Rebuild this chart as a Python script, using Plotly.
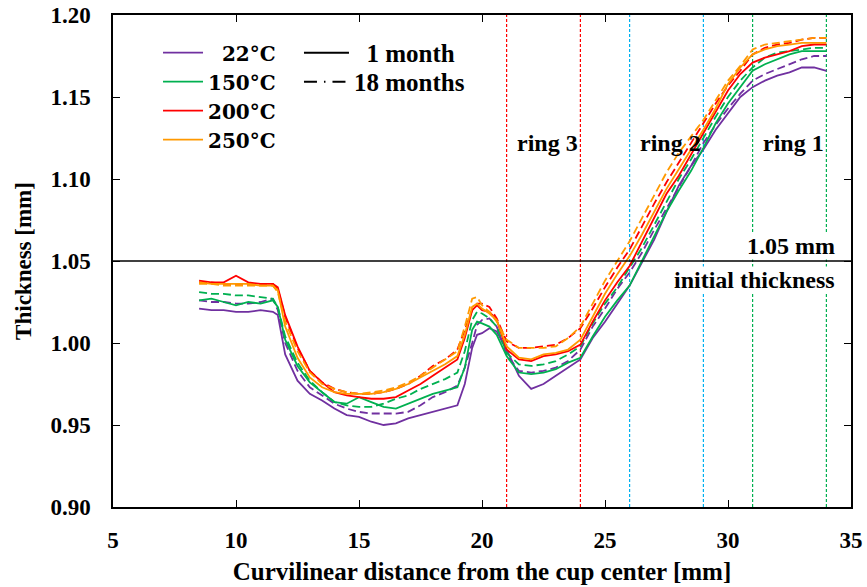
import plotly.graph_objects as go

# ---------------- data ----------------
x_mm = [8.5, 9, 9.5, 10, 10.5, 11, 11.5, 11.7, 12, 12.5, 13, 13.5, 14, 14.5, 15, 15.5,
        16, 16.5, 17, 17.5, 18, 18.5, 19, 19.3, 19.6, 19.8, 20, 20.3, 20.6, 21, 21.5,
        22, 22.5, 23, 23.5, 24, 24.5, 25, 25.5, 26, 26.5, 27, 27.5, 28, 28.5, 29,
        29.5, 30, 30.5, 31, 31.5, 32, 32.5, 33, 33.5, 34]

t22_1m = [1.021, 1.020, 1.020, 1.019, 1.019, 1.020, 1.019, 1.017, 0.993, 0.977, 0.969, 0.965,
          0.960, 0.956, 0.955, 0.952, 0.950, 0.951, 0.954, 0.956, 0.958, 0.960, 0.962, 0.975,
          0.997, 1.005, 1.006, 1.009, 1.007, 0.996, 0.980, 0.972, 0.975, 0.980, 0.985, 0.990,
          1.003, 1.013, 1.024, 1.035, 1.049, 1.063, 1.080, 1.096, 1.108, 1.118, 1.130, 1.140,
          1.150, 1.156, 1.160, 1.163, 1.165, 1.168, 1.168, 1.166]
t22_18m = [1.026, 1.025, 1.025, 1.024, 1.024, 1.025, 1.027, 1.020, 1.000, 0.983, 0.973, 0.968,
           0.963, 0.960, 0.958, 0.957, 0.957, 0.957, 0.958, 0.962, 0.967, 0.970, 0.974, 0.985,
           1.000, 1.011, 1.014, 1.015, 1.010, 0.993, 0.983, 0.982, 0.983, 0.985, 0.989, 0.996,
           1.010, 1.021, 1.033, 1.043, 1.055, 1.069, 1.082, 1.095, 1.108, 1.122, 1.133, 1.143,
           1.152, 1.160, 1.164, 1.167, 1.170, 1.173, 1.175, 1.175]
t150_1m = [1.026, 1.027, 1.025, 1.023, 1.025, 1.024, 1.026, 1.022, 1.002, 0.986, 0.976, 0.970,
           0.964, 0.963, 0.967, 0.964, 0.961, 0.960, 0.963, 0.966, 0.969, 0.971, 0.973, 0.985,
           1.008, 1.013, 1.012, 1.010, 1.005, 0.992, 0.982, 0.981, 0.982, 0.984, 0.988, 0.991,
           1.004, 1.016, 1.026, 1.035, 1.050, 1.066, 1.080, 1.093, 1.105, 1.119, 1.134, 1.146,
           1.156, 1.166, 1.170, 1.173, 1.176, 1.178, 1.178, 1.178]
t150_18m = [1.031, 1.030, 1.030, 1.029, 1.029, 1.028, 1.027, 1.022, 1.004, 0.988, 0.977, 0.970,
            0.964, 0.962, 0.961, 0.961, 0.963, 0.966, 0.968, 0.972, 0.975, 0.978, 0.982, 0.995,
            1.014, 1.019, 1.018, 1.015, 1.010, 0.994, 0.987, 0.986, 0.987, 0.989, 0.993, 0.998,
            1.012, 1.024, 1.034, 1.046, 1.058, 1.072, 1.086, 1.100, 1.112, 1.125, 1.138, 1.150,
            1.160, 1.168, 1.174, 1.177, 1.178, 1.179, 1.180, 1.180]
t200_1m = [1.038, 1.037, 1.037, 1.041, 1.037, 1.036, 1.036, 1.034, 1.017, 0.998, 0.983, 0.976,
           0.970, 0.968, 0.967, 0.966, 0.966, 0.967, 0.971, 0.975, 0.980, 0.985, 0.990, 1.003,
           1.020, 1.023, 1.020, 1.019, 1.014, 0.996, 0.990, 0.989, 0.992, 0.993, 0.995, 0.999,
           1.013, 1.026, 1.037, 1.047, 1.062, 1.077, 1.091, 1.102, 1.115, 1.128, 1.141, 1.154,
           1.164, 1.171, 1.174, 1.176, 1.178, 1.181, 1.182, 1.182]
t200_18m = [1.037, 1.037, 1.036, 1.036, 1.036, 1.036, 1.036, 1.033, 1.016, 0.997, 0.983, 0.976,
            0.972, 0.970, 0.969, 0.969, 0.970, 0.972, 0.975, 0.980, 0.986, 0.990, 0.996, 1.008,
            1.020, 1.024, 1.024, 1.022, 1.015, 1.001, 0.997, 0.997, 0.998, 0.999, 1.003, 1.009,
            1.021, 1.034, 1.046, 1.057, 1.071, 1.085, 1.098, 1.110, 1.122, 1.134, 1.146, 1.157,
            1.166, 1.176, 1.180, 1.182, 1.183, 1.185, 1.186, 1.186]
t250_1m = [1.037, 1.036, 1.036, 1.036, 1.036, 1.035, 1.035, 1.032, 1.010, 0.991, 0.979, 0.973,
           0.970, 0.969, 0.969, 0.969, 0.970, 0.972, 0.975, 0.979, 0.983, 0.987, 0.992, 1.005,
           1.022, 1.024, 1.021, 1.018, 1.014, 0.998, 0.991, 0.990, 0.993, 0.994, 0.996, 1.002,
           1.016, 1.030, 1.042, 1.053, 1.066, 1.080, 1.094, 1.106, 1.118, 1.130, 1.143, 1.158,
           1.168, 1.176, 1.179, 1.181, 1.182, 1.183, 1.183, 1.183]
t250_18m = [1.036, 1.036, 1.035, 1.035, 1.035, 1.035, 1.035, 1.031, 1.013, 0.995, 0.982, 0.975,
            0.972, 0.970, 0.969, 0.970, 0.971, 0.973, 0.976, 0.980, 0.985, 0.990, 0.995, 1.010,
            1.027, 1.028, 1.023, 1.019, 1.013, 1.002, 0.997, 0.997, 0.997, 0.998, 1.003, 1.010,
            1.024, 1.038, 1.050, 1.062, 1.076, 1.090, 1.104, 1.116, 1.126, 1.136, 1.148, 1.160,
            1.169, 1.179, 1.182, 1.183, 1.184, 1.185, 1.186, 1.186]

temp_labels = ["22°C", "150°C", "200°C", "250°C"]
age_labels = ["1 month", "18 months"]
ring_bounds = [(21, 24, "ring 3"), (26, 29, "ring 2"), (31, 34, "ring 1")]
initial_thickness = 1.05
x_ticks = [5, 10, 15, 20, 25, 30, 35]
y_ticks = [0.90, 0.95, 1.00, 1.05, 1.10, 1.15, 1.20]

# ---------------- style ----------------
colors = ["#7030A0", "#00B050", "#FF0000", "#FF9900"]
ring_colors = ["#FF0000", "#00B0F0", "#00B050"]
FONT = "Liberation Serif"
BOLD = dict(family=FONT, color="black", weight="bold")
series = [(t22_1m, t22_18m), (t150_1m, t150_18m), (t200_1m, t200_18m), (t250_1m, t250_18m)]

fig = go.Figure()
for i, ((s1, s18), col, lab) in enumerate(zip(series, colors, temp_labels)):
    fig.add_trace(go.Scatter(x=x_mm, y=s18, mode="lines", showlegend=False, legendgroup=f"t{i}",
                             line=dict(color=col, width=1.8, dash="8px,4px")))
    name = ("\u00a0\u00a0" + lab) if lab == "22°C" else lab
    fig.add_trace(go.Scatter(x=x_mm, y=s1, mode="lines", name=f"<b>{name}</b>", legend="legend",
                             legendgroup=f"t{i}", line=dict(color=col, width=1.8)))

# legend-only entries for line style (one legend box each, so the rows can be placed)
fig.add_trace(go.Scatter(x=[None], y=[None], mode="lines",
                         name="<b>\u00a0\u00a0" + age_labels[0] + "</b>",
                         legend="legend2", line=dict(color="black", width=2)))
fig.add_trace(go.Scatter(x=[None], y=[None], mode="lines", name="<b>" + age_labels[1] + "</b>",
                         legend="legend3",
                         line=dict(color="black", width=2, dash="13px,7px,1.5px,7px")))

shapes = []
for (a, b, _), c in zip(ring_bounds, ring_colors):
    for xv in (a, b):
        shapes.append(dict(type="line", xref="x", yref="y", x0=xv, x1=xv, y0=0.9, y1=1.2,
                           line=dict(color=c, width=1.2, dash="3px,2px"), layer="below"))
shapes.append(dict(type="line", xref="x", yref="y", x0=5, x1=35, y0=initial_thickness,
                   y1=initial_thickness, line=dict(color="black", width=1.5), layer="above"))

annotations = []
for a, b, txt in ring_bounds:
    annotations.append(dict(x=(a + b) / 2 + 0.15, y=1.122, xref="x", yref="y", text=f"<b>{txt}</b>",
                            showarrow=False, font=dict(size=24, **BOLD)))
annotations.append(dict(x=34.4, y=1.059, xref="x", yref="y", text="<b>1.05 mm</b>", xanchor="right",
                        showarrow=False, bgcolor="white", borderpad=0,
                        font=dict(size=24, **BOLD)))
annotations.append(dict(x=34.4, y=1.0385, xref="x", yref="y", text="<b>initial thickness</b>",
                        xanchor="right", showarrow=False, bgcolor="white", borderpad=0,
                        font=dict(size=24, **BOLD)))

axis_common = dict(showline=True, linecolor="black", linewidth=1.5, mirror="ticks",
                   ticks="inside", ticklen=7, tickcolor="black", showgrid=False, zeroline=False,
                   automargin=False, ticklabeloverflow="allow", tickfont=dict(size=23, **BOLD))

legend_box = dict(xanchor="left", bgcolor="rgba(0,0,0,0)", tracegroupgap=0)

fig.update_layout(
    width=867, height=587,
    margin=dict(l=113, r=16, t=15, b=80),
    paper_bgcolor="white", plot_bgcolor="white",
    font=dict(family=FONT, color="black"),
    shapes=shapes, annotations=annotations,
    xaxis=dict(range=[5, 35], tickvals=x_ticks, ticktext=[f"<b>{v}</b>" for v in x_ticks],
               ticklabelstandoff=12,
               title=dict(text="<b>Curvilinear distance from the cup center [mm]</b>", standoff=10,
                          font=dict(size=25, **BOLD)),
               **axis_common),
    yaxis=dict(range=[0.9, 1.2], tickvals=y_ticks, ticktext=[f"<b>{v:.2f}</b>" for v in y_ticks],
               ticklabelstandoff=16,
               title=dict(text="<b>Thickness [mm]</b>", standoff=12,
                          font=dict(size=23, **BOLD)),
               **axis_common),
    legend=dict(x=0.061, y=0.963, yanchor="top", itemwidth=40, traceorder="grouped",
                font=dict(family="DejaVu Serif", size=20, color="black", weight="bold"),
                **legend_box),
    legend2=dict(x=0.252, y=0.923, yanchor="middle", itemwidth=45,
                 font=dict(size=25, **BOLD), **legend_box),
    legend3=dict(x=0.252, y=0.864, yanchor="middle", itemwidth=45,
                 font=dict(size=25, **BOLD), **legend_box),
)

# remove the page's default 8px body margin so the figure sits at the window origin
fig.write_html("out.html", config={"displayModeBar": False},
               post_script="document.body.style.margin='0';")
